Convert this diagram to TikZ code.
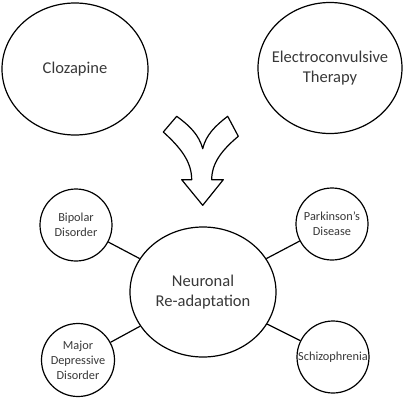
\documentclass[tikz,border=0pt]{standalone}
\usepackage{fontspec}
\setmainfont{Carlito}
\usetikzlibrary{shapes.geometric}

\tikzset{
  bigoval/.style={draw, thick, ellipse, inner sep=0pt, align=center, text=black!78,
    font=\fontsize{16.5}{20}\selectfont},
  smalloval/.style={draw, thick, circle, inner sep=0pt, minimum size=72pt,
    align=center, text=black!78, font=\fontsize{12.3}{15}\selectfont},
  link/.style={thick}
}

\begin{document}
\begin{tikzpicture}[x=1pt, y=-1pt, thick/.style={line width=1.2pt}]
		\useasboundingbox (0,0) rectangle (408,400);
		% two treatments
		\node[bigoval, minimum width=146pt, minimum height=132pt] (cloz) at (75,69) {Clozapine};
		\node[bigoval, inner xsep=-14pt, minimum width=144pt, minimum height=131pt] (ect) at (330,68) {Electroconvulsive\\Therapy};
		% merging arrow
		\draw[thick, line join=round] (176.7,116.3) -- (163.3,132)
			.. controls (181,148) and (191.7,162) .. (191.7,179.7)
			-- (181.7,179.7) -- (202.7,205.3) -- (223.3,179.7) -- (211.7,179.7)
			.. controls (211.7,163) and (222,150) .. (238.3,136.3)
			-- (227.7,116.3)
			.. controls (215,126) and (206,135) .. (202.7,148.7)
			.. controls (199,135) and (190,126) .. (176.7,116.3) -- cycle;
		% common mechanism
		\node[bigoval, inner xsep=-8pt, minimum width=146pt, minimum height=130pt] (neuro) at (203,292) {Neuronal\\Re-adaptation};
		% disorders
		\node[smalloval] (bipolar) at (76,225) {Bipolar\\Disorder};
		\node[smalloval] (parkinson) at (332,224) {Parkinson’s\\Disease};
		\node[smalloval, minimum size=73pt] (mdd) at (78,360) {Major\\Depressive\\Disorder};
		\node[smalloval] (schizo) at (333,357) {Schizophrenia};
		\draw[link] (bipolar) -- (neuro);
		\draw[link] (parkinson) -- (neuro);
		\draw[link] (mdd) -- (neuro);
		\draw[link] (schizo) -- (neuro);
\end{tikzpicture}
\end{document}
